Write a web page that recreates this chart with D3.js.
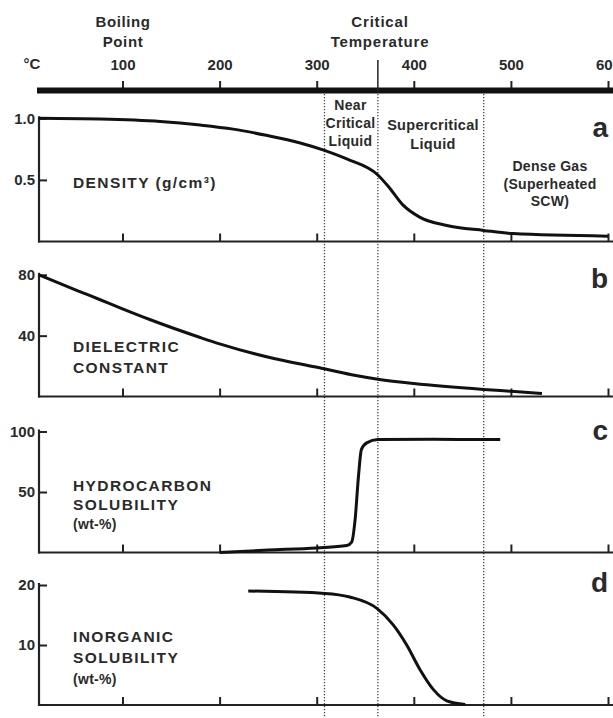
<!DOCTYPE html>
<html>
<head>
<meta charset="utf-8">
<script src="https://cdn.jsdelivr.net/npm/d3@7"></script>
<style>
  body { margin: 0; background: #fff; }
  svg { display: block; }
  text { font-family: "Liberation Sans", Arial, sans-serif; font-weight: bold; fill: #2a2a2a; }
</style>
</head>
<body>
<svg id="chart" width="613" height="718"></svg>
<script>
// temperature axis (deg C)
var tempTicks = [100, 200, 300, 400, 500, 600];
var regionBounds = [308, 363, 472];   // near critical | supercritical | dense gas
var criticalTemp = 363;

// (a) density, g/cm3
var densityTemp  = [14, 77, 139, 180, 214, 248, 283, 308, 331, 363, 375, 389, 406, 434, 472, 502, 600];
var densityValue = [1.0, 0.994, 0.974, 0.945, 0.912, 0.862, 0.8, 0.74, 0.67, 0.54, 0.435, 0.295, 0.198, 0.13, 0.09, 0.064, 0.043];

// (b) dielectric constant
var dielecTemp  = [14, 54, 77, 100, 128, 180, 200, 256, 299, 336, 363, 400, 472, 500, 532];
var dielecValue = [80, 69.5, 63.6, 57.6, 50.6, 38.8, 34.6, 25, 19.4, 14.3, 11.4, 8.5, 4.6, 3.4, 2];

// (c) hydrocarbon solubility, wt-%
var hcTemp  = [200, 250, 300, 331, 336, 339.5, 343, 346, 351.5, 363, 420, 489];
var hcValue = [0, 2, 3.8, 5.8, 8.6, 26.7, 62.8, 85, 90.6, 93.3, 93.5, 93.3];

// (d) inorganic solubility, wt-%
var inorgTemp  = [229.5, 308.5, 334, 362, 379, 393, 406, 420, 434, 453];
var inorgValue = [19.0, 18.6, 18.0, 16.1, 13.3, 9.9, 6.0, 2.6, 0.7, 0.1];

var panelLetters = ["a", "b", "c", "d"];
var panelTicks = [[0.5, 1.0], [40, 80], [50, 100], [10, 20]];
var panelMax = [1, 80, 100, 20];
var panelLabels = [
  ["DENSITY (g/cm\u00B3)"],
  ["DIELECTRIC", "CONSTANT"],
  ["HYDROCARBON", "SOLUBILITY", "(wt-%)"],
  ["INORGANIC", "SOLUBILITY", "(wt-%)"]
];

var svg = d3.select("#chart");
var x = d3.scaleLinear().domain([14, 600]).range([39, 608]);

// layout of the four panels (pixel positions only)
var layout = [
  { bottom: 241.5, top: 118.3, labelY: [182], letterY: 137, fmt: d3.format(".1f") },
  { bottom: 396.5, top: 274.8, labelY: [346, 367], letterY: 288, fmt: d3.format("d") },
  { bottom: 552.5, top: 431.5, labelY: [485, 504, 523], letterY: 440, fmt: d3.format("d") },
  { bottom: 705, top: 585, labelY: [636, 657, 678], letterY: 592, fmt: d3.format("d") }
];

var series = [
  d3.zip(densityTemp, densityValue),
  d3.zip(dielecTemp, dielecValue),
  d3.zip(hcTemp, hcValue),
  d3.zip(inorgTemp, inorgValue)
];

/* top temperature bar */
var tempAxis = svg.append("g").attr("transform", "translate(0,88)");
tempAxis.call(d3.axisTop(x).tickValues(tempTicks).tickSize(7).tickSizeOuter(0).tickPadding(11));
tempAxis.select(".domain").remove();
tempAxis.selectAll(".tick line").attr("stroke", "#222").attr("stroke-width", 2);
tempAxis.selectAll(".tick text")
   .attr("font-size", 15).attr("fill", "#2a2a2a")
   .attr("font-family", "Liberation Sans, Arial, sans-serif").attr("font-weight", "bold");
svg.append("line")
   .attr("x1", 37).attr("x2", 613).attr("y1", 90.5).attr("y2", 90.5)
   .attr("stroke", "#111").attr("stroke-width", 6);
svg.append("text").attr("x", 32).attr("y", 68.5).attr("text-anchor", "middle")
   .attr("font-size", 15).text("\u00B0C");
svg.append("line")
   .attr("x1", x(criticalTemp)).attr("x2", x(criticalTemp)).attr("y1", 60).attr("y2", 92)
   .attr("stroke", "#222").attr("stroke-width", 1.5);

svg.append("text").attr("text-anchor", "middle").attr("font-size", 15).attr("letter-spacing", 0.6)
   .selectAll("tspan").data(["Boiling", "Point"]).join("tspan")
   .attr("x", 123).attr("y", function(d, i){ return 27 + i * 20; }).text(function(d){ return d; });
svg.append("text").attr("text-anchor", "middle").attr("font-size", 15).attr("letter-spacing", 0.8)
   .selectAll("tspan").data(["Critical", "Temperature"]).join("tspan")
   .attr("x", 380).attr("y", function(d, i){ return 27 + i * 20; }).text(function(d){ return d; });

/* dotted region boundaries */
svg.selectAll(".bound").data(regionBounds).join("line")
   .attr("class", "bound")
   .attr("x1", function(d){ return x(d); }).attr("x2", function(d){ return x(d); })
   .attr("y1", 94).attr("y2", 718)
   .attr("stroke", "#444").attr("stroke-width", 1.3).attr("stroke-dasharray", "1.3,1.7");

/* region names in panel a */
function block(lines, cx, y0, step, size){
  svg.append("text").attr("text-anchor", "middle").attr("font-size", size).attr("letter-spacing", 0.3)
     .selectAll("tspan").data(lines).join("tspan")
     .attr("x", cx).attr("y", function(d, i){ return y0 + i * step; }).text(function(d){ return d; });
}
block(["Near", "Critical", "Liquid"], 350.5, 110, 18, 14);
block(["Supercritical", "Liquid"], 433, 130, 19, 14.5);
block(["Dense Gas", "(Superheated", "SCW)"], 550, 171, 17.5, 14);

/* panels */
layout.forEach(function(p, i){
  var y = d3.scaleLinear().domain([0, panelMax[i]]).range([p.bottom, p.top]);
  var g = svg.append("g");

  // bottom axis with upward ticks
  var bx = g.append("g").attr("transform", "translate(0," + p.bottom + ")");
  bx.call(d3.axisTop(x).tickValues(tempTicks).tickSize(8).tickSizeOuter(0).tickFormat(""));
  bx.select(".domain").remove();
  bx.selectAll(".tick line").attr("stroke", "#222").attr("stroke-width", 2);
  g.append("line").attr("x1", x(14) - 1).attr("x2", 613)
   .attr("y1", p.bottom).attr("y2", p.bottom)
   .attr("stroke", "#222").attr("stroke-width", 2.2);

  // left axis with inward ticks
  var ly = g.append("g").attr("transform", "translate(" + x(14) + ",0)");
  ly.call(d3.axisLeft(y).tickValues(panelTicks[i]).tickSize(-8).tickSizeOuter(0)
            .tickPadding(5).tickFormat(p.fmt));
  ly.select(".domain").remove();
  ly.selectAll(".tick line").attr("stroke", "#222").attr("stroke-width", 2);
  ly.selectAll(".tick text")
    .attr("font-size", 15).attr("fill", "#2a2a2a").attr("x", -4)
    .attr("font-family", "Liberation Sans, Arial, sans-serif").attr("font-weight", "bold");
  g.append("line").attr("x1", x(14)).attr("x2", x(14))
   .attr("y1", p.top - 2).attr("y2", p.bottom + 1)
   .attr("stroke", "#222").attr("stroke-width", 2.2);

  // curve
  var line = d3.line()
    .x(function(d){ return x(d[0]); })
    .y(function(d){ return y(d[1]); })
    .curve(d3.curveMonotoneX);
  g.append("path").datum(series[i])
   .attr("d", line).attr("fill", "none")
   .attr("stroke", "#111").attr("stroke-width", 3).attr("stroke-linejoin", "round");

  // quantity label
  g.append("text").attr("font-size", 15.5).attr("letter-spacing", 1.4)
   .selectAll("tspan").data(panelLabels[i]).join("tspan")
   .attr("x", 73).attr("y", function(d, k){ return p.labelY[k] + 6; })
   .attr("font-size", function(d){ return d == "(wt-%)" ? 14 : null; })
   .attr("letter-spacing", function(d){ return d == "(wt-%)" ? 0.3 : null; })
   .text(function(d){ return d; });

  // panel letter
  g.append("text").attr("x", 608).attr("y", p.letterY).attr("text-anchor", "end")
   .attr("font-size", 28).attr("fill", "#1a1a1a").text(panelLetters[i]);
});
</script>
</body>
</html>
